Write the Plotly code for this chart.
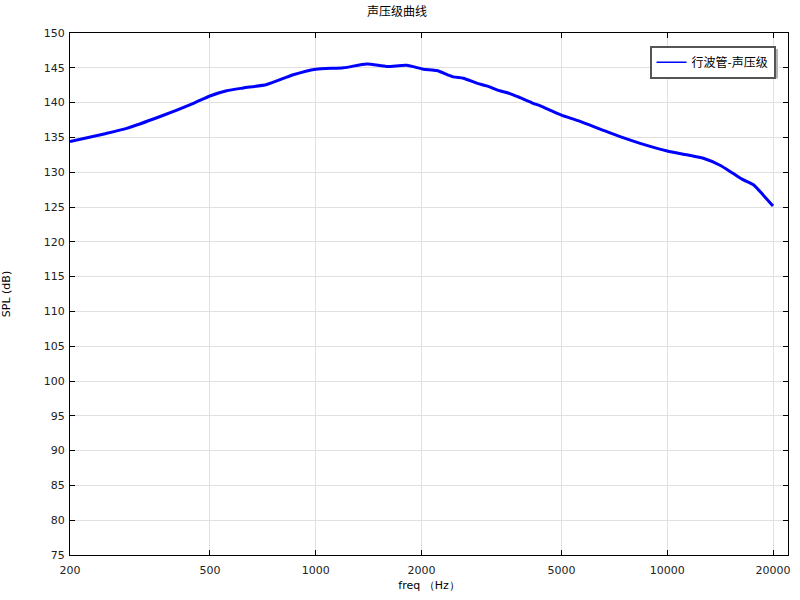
import plotly.graph_objects as go
import math

freq = [200, 250, 290, 361, 449, 500, 558, 622, 726, 863, 1000, 1200, 1397, 1592, 1815,
        2024, 2209, 2460, 2630, 2870, 3064, 3343, 3570, 3812, 4156, 4342, 4740, 5000,
        5650, 6443, 7345, 8375, 10000, 11350, 12670, 14130, 15430, 16480, 17590, 18770, 20000]
spl = [134.4, 135.5, 136.3, 138.0, 139.9, 140.95, 141.7, 142.1, 142.6, 144.0, 144.8, 145.0,
       145.55, 145.2, 145.35, 144.8, 144.6, 143.7, 143.5, 142.8, 142.4, 141.7, 141.3, 140.7,
       139.9, 139.55, 138.7, 138.2, 137.3, 136.2, 135.1, 134.15, 133.05, 132.5, 132.0, 131.0,
       129.8, 128.9, 128.2, 126.7, 125.15]
xticks = [200, 500, 1000, 2000, 5000, 10000, 20000]
yticks = list(range(75, 151, 5))

FONT = "DejaVu Sans"
CJK = "Noto Sans CJK SC"

fig = go.Figure()
fig.add_trace(go.Scatter(x=freq, y=spl, mode="lines", name="行波管-声压级", showlegend=False,
                         line=dict(color="#0000ff", width=3, shape="spline", smoothing=0.6)))
# legend entry with thin line
fig.add_trace(go.Scatter(x=[None], y=[None], mode="lines", name="行波管-声压级",
                         line=dict(color="#0000ff", width=1.5)))

W, H = 800, 600
ml, mr, mt, mb = 70, 12, 33, 45
pw, ph = W - ml - mr, H - mt - mb

def px(x, y):
    return (x - ml) / pw, (H - mb - y) / ph

# legend shadow
sx0, sy0 = px(651, 78.5)
sx1, sy1 = px(778, 49)
fig.add_shape(type="rect", xref="paper", yref="paper", x0=sx0, y0=sy0, x1=sx1, y1=sy1,
              fillcolor="#b4b4b4", line=dict(width=0), layer="above")

lx, ly = px(775.5, 45.7)

axis_common = dict(showline=True, linecolor="black", linewidth=1, mirror="ticks",
                   ticks="inside", ticklen=5, tickcolor="black", automargin=False,
                   showgrid=True, gridcolor="#e0e0e0", gridwidth=1, zeroline=False,
                   tickfont=dict(family=FONT, size=11, color="#222222"))

fig.update_layout(
    width=W, height=H,
    margin=dict(l=ml, r=mr, t=mt, b=mb),
    paper_bgcolor="white", plot_bgcolor="white",
    font=dict(family=FONT, size=12, color="black"),
    title=dict(text="声压级曲线", x=397 / W, xanchor="center", xref="container",
               y=1 - 11.5 / H, yanchor="middle", yref="container",
               font=dict(family=CJK, size=12, color="black")),
    xaxis=dict(type="log", range=[math.log10(200), 4.3437],
               tickvals=xticks, ticktext=[str(v) for v in xticks], ticklabelstandoff=5,
               title=dict(text="freq （Hz）", standoff=5, font=dict(size=11)),
               **axis_common),
    yaxis=dict(range=[75, 150], tickvals=yticks, ticklabelstandoff=2,
               title=dict(text="SPL (dB)", standoff=32, font=dict(size=11)),
               **axis_common),
    showlegend=True,
    legend=dict(x=lx, y=ly, xanchor="right", yanchor="top", bgcolor="white",
                bordercolor="#555555", borderwidth=2, itemwidth=30,
                font=dict(family=CJK, size=12, color="black")),
)

fig.write_html("out.html", config={"displayModeBar": False},
               post_script="document.body.style.margin='0';")
